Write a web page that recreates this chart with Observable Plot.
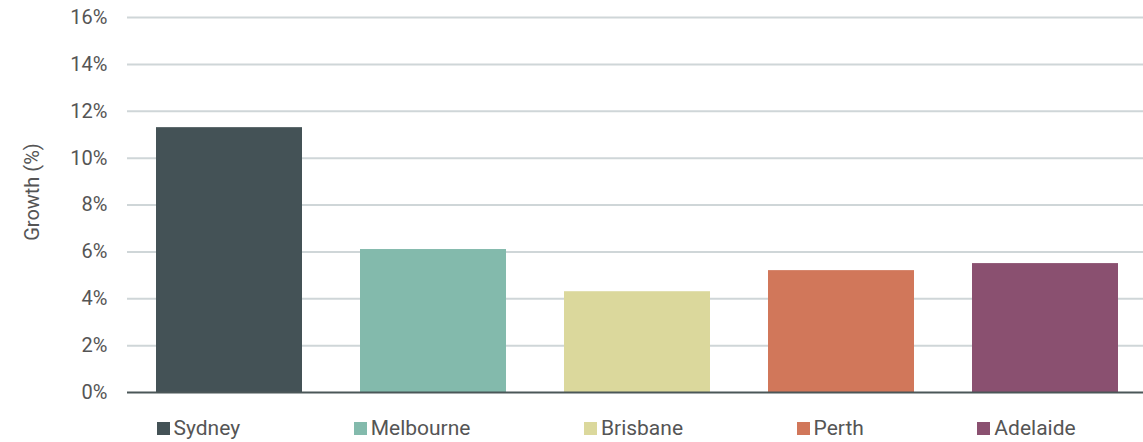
<!DOCTYPE html>
<html>
<head>
<meta charset="utf-8">
<script src="https://cdn.jsdelivr.net/npm/d3@7"></script>
<script src="https://cdn.jsdelivr.net/npm/@observablehq/plot@0.6"></script>
<style>
  body { margin: 0; background: #fff; font-family: Roboto, "Noto Sans", sans-serif; }
  #legend { display: flex; gap: 113.5px; margin: 12px 0 0 156.5px; font-size: 21px; color: #555; line-height: 24px; }
  #legend .item { display: flex; align-items: center; }
  #legend .sw { width: 13px; height: 13px; margin-right: 4px; }
</style>
</head>
<body>
<div id="chart"></div>
<div id="legend"></div>
<script>
const cities = ["Sydney", "Melbourne", "Brisbane", "Perth", "Adelaide"];
const growth = [11.3, 6.1, 4.3, 5.2, 5.5];
const colors = ["#445256", "#83baac", "#dbd89c", "#d1775a", "#8a5070"];
const yTicks = [0, 2, 4, 6, 8, 10, 12, 14, 16];
const yLabel = "Growth (%)";

const data = cities.map((c, i) => ({city: c, value: growth[i]}));

const plot = Plot.plot({
  width: 1143,
  height: 404,
  marginTop: 17,
  marginBottom: 12,
  marginLeft: 127,
  marginRight: 0,
  style: {fontFamily: "Roboto, sans-serif", fontSize: "20px", color: "#555"},
  x: {domain: cities, paddingInner: 0.285, paddingOuter: 0.1225, insetLeft: 4, axis: null},
  y: {domain: [0, 16], ticks: yTicks, tickFormat: d => d + "%", tickSize: 0, tickPadding: 20, label: null},
  color: {domain: cities, range: colors},
  marks: [
    Plot.ruleY(yTicks.filter(d => d > 0), {stroke: "#cfd6d8", strokeWidth: 2}),
    Plot.barY(data, {x: "city", y: "value", fill: "city"}),
    Plot.ruleY([0], {stroke: "#4b5758", strokeWidth: 2}),
    Plot.text([yLabel], {frameAnchor: "left", textAnchor: "middle", rotate: -90, dx: -95, dy: -13, fontSize: 20, fill: "#555"})
  ]
});
document.getElementById("chart").appendChild(plot);

const legend = document.getElementById("legend");
cities.forEach((c, i) => {
  const item = document.createElement("div");
  item.className = "item";
  const sw = document.createElement("span");
  sw.className = "sw";
  sw.style.background = colors[i];
  const t = document.createElement("span");
  t.textContent = c;
  item.appendChild(sw);
  item.appendChild(t);
  legend.appendChild(item);
});
</script>
</body>
</html>
